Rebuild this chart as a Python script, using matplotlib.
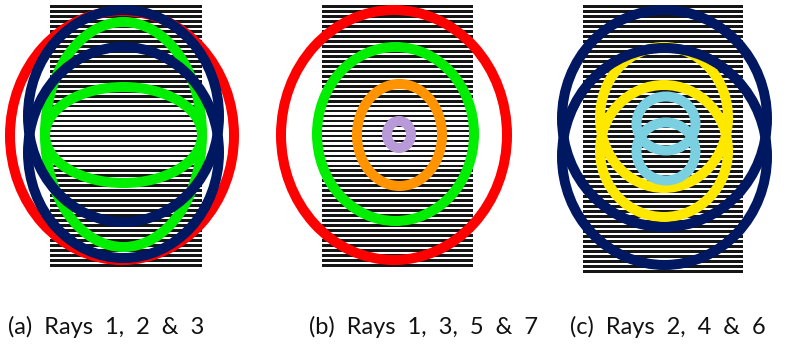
import numpy as np
import matplotlib
matplotlib.use("Agg")
import matplotlib.pyplot as plt
from matplotlib.patches import Ellipse

W, H, DPI = 789, 346, 100

# Striped background blocks (left, right, top, bottom) in pixel units
stripe_left = [50, 322, 583]
stripe_right = [202, 473, 743]
stripe_top = [5, 5, 5]
stripe_bottom = [267, 267, 273]
stripe_pitch = 5.07
stripe_thick = 2.8

# Ray ellipses per panel: centre x, centre y, width, height, colour
rays_a_cx = [122, 123.5, 123.5, 123.5, 123.5]
rays_a_cy = [135.5, 134.5, 135, 116, 152.5]
rays_a_w = [224, 157, 157, 191, 191]
rays_a_h = [249, 225, 96, 212, 211]
rays_a_col = ["#ff0000", "#00ee00", "#00ee00", "#001862", "#001862"]

rays_b_cx = [394, 395.5, 399.5, 399]
rays_b_cy = [135, 134, 135, 134.5]
rays_b_w = [226, 157, 85, 24]
rays_b_h = [250, 174, 102, 27]
rays_b_col = ["#ff0000", "#00ee00", "#ff9400", "#b99ad9"]

rays_c_cx = [664, 664, 664.5, 664.5, 666, 666]
rays_c_cy = [117.5, 151, 118.5, 156.5, 123.5, 151.5]
rays_c_w = [128, 128, 205, 205, 59, 59]
rays_c_h = [141, 132, 217, 217, 54, 58]
rays_c_col = ["#ffe800", "#ffe800", "#001862", "#001862", "#7acfe0", "#7acfe0"]
rays_c_z = [3, 3, 4, 4, 5, 5]

captions = ["(a)  Rays  1,  2  &  3", "(b)  Rays  1,  3,  5  &  7", "(c)  Rays  2,  4  &  6"]
caption_x = [8, 309, 570]
caption_y = 327

fig = plt.figure(figsize=(W / DPI, H / DPI), dpi=DPI)
ax = fig.add_axes([0, 0, 1, 1])
ax.set_xlim(0, W)
ax.set_ylim(H, 0)
ax.axis("off")

# Horizontal stripes
for l, r, t, b in zip(stripe_left, stripe_right, stripe_top, stripe_bottom):
    n = int(round((b - t) / stripe_pitch)) + 1
    ys = np.linspace(t + stripe_thick / 2, b - stripe_thick / 2, n)
    ax.barh(ys, r - l, left=l, height=stripe_thick, color="#161616",
            linewidth=0, zorder=1)

lw = 10 * 72 / DPI


def draw(cx, cy, w, h, col, z=None):
    for i in range(len(cx)):
        zz = 2 + i * 0.01 if z is None else z[i] + i * 0.01
        ax.add_patch(Ellipse((cx[i], cy[i]), w[i], h[i], fill=False,
                             edgecolor=col[i], linewidth=lw, zorder=zz))


draw(rays_a_cx, rays_a_cy, rays_a_w, rays_a_h, rays_a_col)
draw(rays_b_cx, rays_b_cy, rays_b_w, rays_b_h, rays_b_col)
draw(rays_c_cx, rays_c_cy, rays_c_w, rays_c_h, rays_c_col, rays_c_z)

for txt, x in zip(captions, caption_x):
    ax.text(x, caption_y, txt, fontsize=17, family="Lato", ha="left",
            va="center", color="#111111")

fig.savefig("out.png", dpi=DPI)
